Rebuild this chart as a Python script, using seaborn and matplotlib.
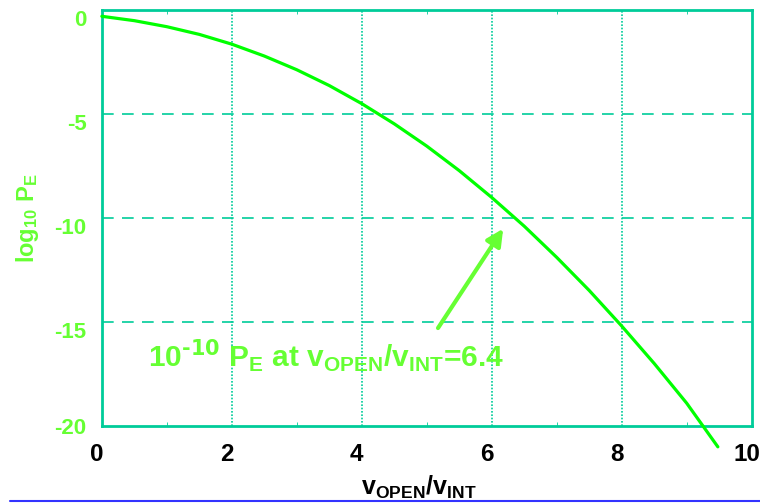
import pandas as pd
import matplotlib
matplotlib.use('Agg')
import matplotlib.pyplot as plt
import matplotlib.transforms as mtransforms
import seaborn as sns
from matplotlib.lines import Line2D

# 데이터
v_ratio = [0.0, 0.5, 1.0, 1.5, 2.0, 2.5, 3.0, 3.5, 4.0, 4.5, 5.0, 5.5,
           6.0, 6.5, 7.0, 7.5, 8.0, 8.5, 9.0, 9.48]
log_pe = [-0.30, -0.51, -0.80, -1.17, -1.64, -2.21, -2.87, -3.63, -4.50, -5.47,
          -6.54, -7.72, -9.01, -10.39, -11.89, -13.48, -15.19, -16.99, -18.90, -21.0]
x_ticks = [0, 2, 4, 6, 8, 10]
y_ticks = [0, -5, -10, -15, -20]
note = '10$^{\\text{-10}}$ P$_{\\mathregular{E}}$ at v$_{\\mathregular{OPEN}}$/v$_{\\mathregular{INT}}$=6.4'

sns.set_style('white')
plt.rcParams['font.family'] = ['Liberation Sans', 'DejaVu Sans']
plt.rcParams['font.weight'] = 'bold'
plt.rcParams['mathtext.default'] = 'regular'
plt.rcParams['axes.unicode_minus'] = False

teal = '#00CC99'
green = '#00FF00'
txt_green = '#66FF33'

df = pd.DataFrame({'v': v_ratio, 'logpe': log_pe})

fig = plt.figure(figsize=(7.6, 5.03), dpi=100)
ax = fig.add_axes([0.134, 0.153, 0.855, 0.827])

sns.lineplot(data=df, x='v', y='logpe', ax=ax, color=green, linewidth=2.3, clip_on=False, zorder=5)

ax.set_xlim(0, 10)
ax.set_ylim(-20, 0)
ax.set_xticks(x_ticks)
ax.set_yticks(y_ticks)
ax.set_xticks([1, 3, 5, 7, 9], minor=True)
ax.tick_params(axis='x', which='major', labelsize=17.5, colors='black', length=0, pad=12)
ax.tick_params(axis='y', which='major', labelsize=16, labelcolor=txt_green, length=0, pad=11)
ax.tick_params(axis='x', which='minor', direction='in', length=3, color=teal, top=True, bottom=True)

# 눈금 라벨 위치 보정
for lab in ax.get_xticklabels():
    lab.set_fontweight('bold')
    lab.set_transform(lab.get_transform() + mtransforms.ScaledTranslation(-5 / 100, 0, fig.dpi_scale_trans))
for lab in ax.get_yticklabels()[:-1]:
    lab.set_transform(lab.get_transform() + mtransforms.ScaledTranslation(0, -8 / 100, fig.dpi_scale_trans))
for lab in ax.get_yticklabels():
    lab.set_fontweight('bold')

# 격자
for xv in [2, 4, 6, 8]:
    ax.axvline(xv, color=teal, linestyle=(0, (1, 1)), linewidth=1.2, zorder=1)
for yv in [-5, -10, -15]:
    ax.axhline(yv, color=teal, linestyle=(0, (7, 5)), linewidth=1.2, zorder=1)

for sp in ax.spines.values():
    sp.set_color(teal)
    sp.set_linewidth(2)

ax.set_xlabel('v$_{\\mathregular{OPEN}}$/v$_{\\mathregular{INT}}$', fontsize=18, fontweight='bold', color='black', labelpad=7)
ax.xaxis.set_label_coords(0.487, -0.115)
ax.set_ylabel('log$_{10}$ P$_{\\mathregular{E}}$', fontsize=17, fontweight='bold', color=txt_green, labelpad=10)

ax.annotate('', xy=(6.2, -10.4), xytext=(5.15, -15.4),
            arrowprops=dict(arrowstyle='-|>,head_length=1.0,head_width=0.5', color=txt_green, lw=3))
ax.text(0.71, -16.6, note, fontsize=21.5, fontweight='bold', color=txt_green, va='center', ha='left', zorder=6)

# 하단 파란 선
fig.add_artist(Line2D([10 / 760, 1.0], [2 / 503, 2 / 503], color='#3333FF', linewidth=1.5))

fig.savefig('out.png', dpi=100)
